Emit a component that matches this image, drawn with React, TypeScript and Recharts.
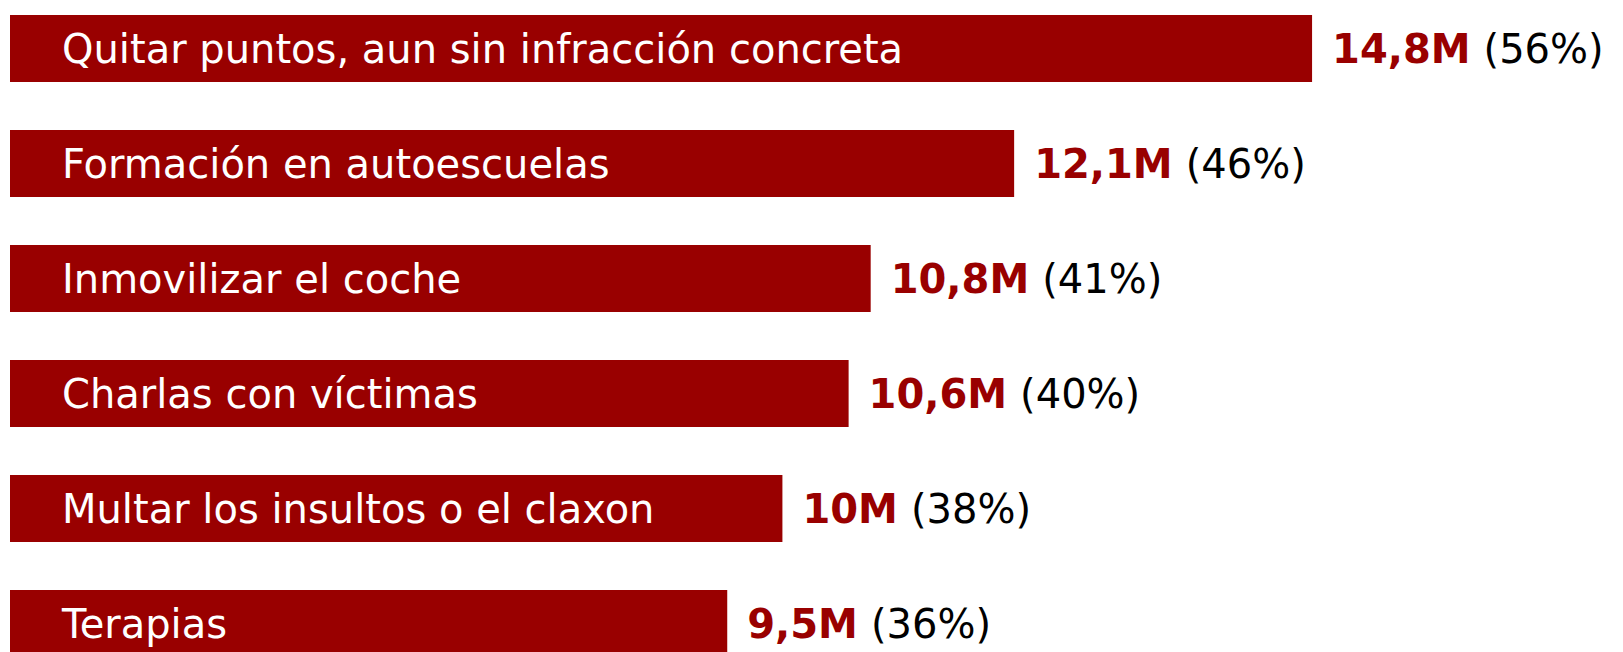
import React from 'react';
import { BarChart, Bar, XAxis, YAxis, LabelList } from 'recharts';

const categories = [
  'Quitar puntos, aun sin infracción concreta',
  'Formación en autoescuelas',
  'Inmovilizar el coche',
  'Charlas con víctimas',
  'Multar los insultos o el claxon',
  'Terapias',
];
const values = [14.8, 12.1, 10.8, 10.6, 10, 9.5];
const valueLabels = ['14,8M', '12,1M', '10,8M', '10,6M', '10M', '9,5M'];
const percents = [56, 46, 41, 40, 38, 36];

const data = categories.map((name, i) => ({
  name,
  value: values[i],
  label: valueLabels[i],
  pct: percents[i],
}));

const BAR_COLOR = '#990000';
const FONT = '"DejaVu Sans", Verdana, sans-serif';

const CategoryLabel = (props: any) => {
  const { x, y, height, value } = props;
  return (
    <text x={Number(x) + 52} y={Number(y) + Number(height) / 2 + 14} fill="#ffffff" fontSize={40} fontFamily={FONT}>
      {value}
    </text>
  );
};

const ValueLabel = (props: any) => {
  const { x, y, width, height, index } = props;
  const row = data[index];
  if (!row) return null;
  return (
    <text x={Number(x) + Number(width) + 20} y={Number(y) + Number(height) / 2 + 14} fontSize={40} fontFamily={FONT}>
      <tspan fontWeight="bold" fill={BAR_COLOR}>{row.label}</tspan>
      <tspan dx={13} fill="#000000">{`(${row.pct}%)`}</tspan>
    </text>
  );
};

export default function App() {
  return (
    <div style={{ position: 'absolute', left: 0, top: -9, background: '#ffffff' }}>
      <BarChart
        width={1623}
        height={690}
        data={data}
        layout="vertical"
        margin={{ top: 0, right: 13, bottom: 0, left: 10 }}
        barCategoryGap={48}
      >
        <XAxis type="number" domain={[3, 17.5]} allowDataOverflow hide />
        <YAxis type="category" dataKey="name" hide />
        <Bar dataKey="value" fill={BAR_COLOR} barSize={67} isAnimationActive={false}>
          <LabelList dataKey="name" content={CategoryLabel} />
          <LabelList dataKey="label" content={ValueLabel} />
        </Bar>
      </BarChart>
    </div>
  );
}
